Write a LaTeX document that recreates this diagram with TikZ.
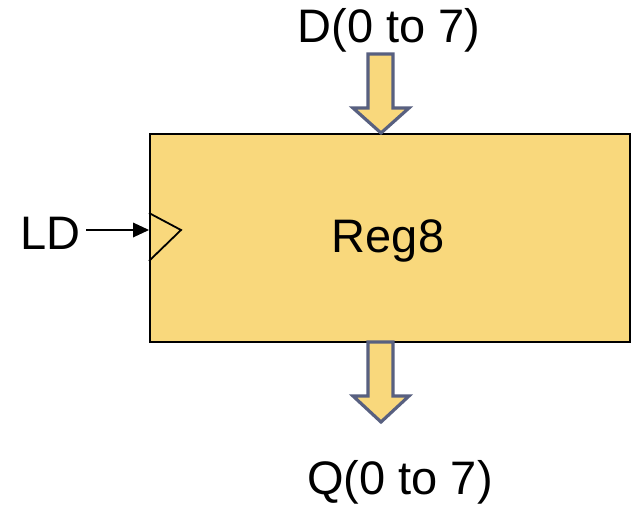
\documentclass[tikz,border=0pt]{standalone}
\usepackage{fontspec}
\setmainfont{Liberation Sans}
\definecolor{regfill}{RGB}{249,216,124}
\definecolor{busline}{RGB}{88,96,128}
\begin{document}
\begin{tikzpicture}[x=1pt,y=-1pt,
  lbl/.style={font=\fontsize{47}{51}\selectfont, inner sep=0pt},
  busarrow/.style={fill=regfill, draw=busline, line width=3.2pt, line join=miter}]
\useasboundingbox (0,0) rectangle (631,505);
\node[draw=black, line width=1.8pt, fill=regfill, minimum width=480pt, minimum height=208pt, anchor=north west, inner sep=0pt] (reg) at (149,133) {};
\node[lbl] (name) at (388,241) {Reg8};
\node[lbl] (d) at (389,30) {D(0 to 7)};
\node[lbl] (q) at (400,482) {Q(0 to 7)};
\node[lbl, anchor=east] (ld) at (81,233) {LD};
\coordinate (clk) at (149,230);
\coordinate (ldstart) at (86,230);
% clock triangle
\draw[line width=1.8pt, line join=miter] (149,213) -- (181,230) -- (149,261);
% LD arrow
\draw[line width=1.8pt] (ldstart) -- ([xshift=-10pt]clk);
\fill (clk) -- ++(-16,-7.5) -- ++(0,15) -- cycle;
% input bus arrow
\draw[busarrow] (368,54) -- (393,54) -- (393,108) -- (409,108) -- (381,133) -- (353,108) -- (368,108) -- cycle;
% output bus arrow
\draw[busarrow] (368,342) -- (393,342) -- (393,396) -- (409,396) -- (381,422) -- (353,396) -- (368,396) -- cycle;
\end{tikzpicture}
\end{document}
